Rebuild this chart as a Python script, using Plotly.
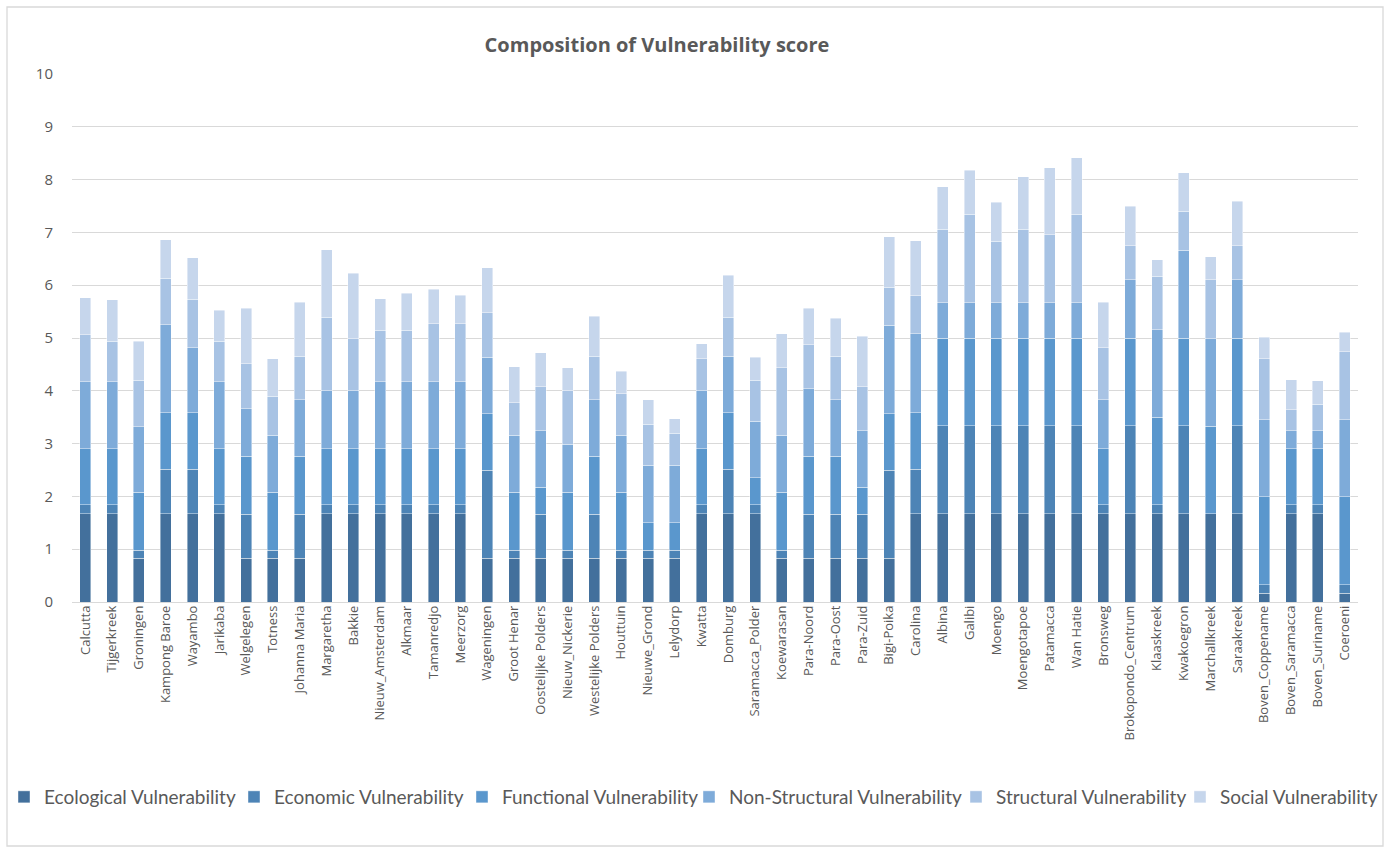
import plotly.graph_objects as go

# Districts along the x axis
districts = [
    "Calcutta", "Tijgerkreek", "Groningen", "Kampong Baroe", "Wayambo", "Jarikaba",
    "Welgelegen", "Totness", "Johanna Maria", "Margaretha", "Bakkie", "Nieuw_Amsterdam",
    "Alkmaar", "Tamanredjo", "Meerzorg", "Wageningen", "Groot Henar", "Oostelijke Polders",
    "Nieuw_Nickerie", "Westelijke Polders", "Houttuin", "Nieuwe_Grond", "Lelydorp", "Kwatta",
    "Domburg", "Saramacca_Polder", "Koewarasan", "Para-Noord", "Para-Oost", "Para-Zuid",
    "Bigi-Poika", "Carolina", "Albina", "Galibi", "Moengo", "Moengotapoe",
    "Patamacca", "Wan Hatie", "Bronsweg", "Brokopondo_Centrum", "Klaaskreek", "Kwakoegron",
    "Marchallkreek", "Saraakreek", "Boven_Coppename", "Boven_Saramacca", "Boven_Suriname", "Coeroeni",
]

# Vulnerability components per district (stacked bottom to top)
ecological = [
    1.67, 1.67, 0.83, 1.67, 1.67, 1.67, 0.83, 0.83, 0.83, 1.67, 1.67, 1.67,
    1.67, 1.67, 1.67, 0.83, 0.83, 0.83, 0.83, 0.83, 0.83, 0.83, 0.83, 1.67,
    1.67, 1.67, 0.83, 0.83, 0.83, 0.83, 0.83, 1.67, 1.67, 1.67, 1.67, 1.67,
    1.67, 1.67, 1.67, 1.67, 1.67, 1.67, 1.67, 1.67, 0.17, 1.67, 1.67, 0.17,
]
economic = [
    0.17, 0.17, 0.15, 0.84, 0.84, 0.17, 0.83, 0.15, 0.83, 0.17, 0.17, 0.17,
    0.17, 0.17, 0.17, 1.67, 0.15, 0.83, 0.15, 0.83, 0.15, 0.15, 0.15, 0.17,
    0.84, 0.17, 0.15, 0.83, 0.83, 0.83, 1.67, 0.84, 1.67, 1.67, 1.67, 1.67,
    1.67, 1.67, 0.17, 1.67, 0.17, 1.67, 0.00, 1.67, 0.16, 0.17, 0.17, 0.16,
]
functional = [
    1.06, 1.06, 1.10, 1.07, 1.07, 1.06, 1.10, 1.10, 1.10, 1.06, 1.06, 1.06,
    1.06, 1.06, 1.06, 1.07, 1.10, 0.51, 1.10, 1.10, 1.10, 0.52, 0.52, 1.06,
    1.07, 0.51, 1.10, 1.10, 1.10, 0.51, 1.07, 1.07, 1.66, 1.66, 1.66, 1.66,
    1.66, 1.66, 1.06, 1.66, 1.66, 1.66, 1.66, 1.66, 1.66, 1.06, 1.06, 1.66,
]
non_structural = [
    1.27, 1.27, 1.24, 1.67, 1.24, 1.27, 0.90, 1.08, 1.07, 1.10, 1.10, 1.27,
    1.27, 1.27, 1.27, 1.07, 1.08, 1.07, 0.91, 1.07, 1.08, 1.09, 1.09, 1.10,
    1.07, 1.07, 1.08, 1.28, 1.07, 1.07, 1.67, 1.50, 0.67, 0.67, 0.67, 0.67,
    0.67, 0.67, 0.93, 1.10, 1.66, 1.66, 1.66, 1.10, 1.46, 0.34, 0.34, 1.46,
]
structural = [
    0.89, 0.77, 0.88, 0.88, 0.91, 0.77, 0.85, 0.74, 0.82, 1.39, 0.99, 0.98,
    0.98, 1.10, 1.10, 0.84, 0.61, 0.84, 1.01, 0.82, 0.78, 0.78, 0.61, 0.61,
    0.74, 0.78, 1.28, 0.83, 0.82, 0.84, 0.72, 0.72, 1.39, 1.67, 1.16, 1.39,
    1.29, 1.67, 0.99, 0.65, 1.01, 0.74, 1.11, 0.65, 1.16, 0.40, 0.51, 1.29,
]
social = [
    0.70, 0.78, 0.74, 0.73, 0.79, 0.59, 1.05, 0.71, 1.03, 1.28, 1.24, 0.59,
    0.70, 0.65, 0.54, 0.85, 0.69, 0.64, 0.44, 0.76, 0.43, 0.46, 0.27, 0.28,
    0.80, 0.44, 0.64, 0.69, 0.72, 0.95, 0.96, 1.04, 0.80, 0.84, 0.74, 0.99,
    1.26, 1.07, 0.86, 0.75, 0.31, 0.73, 0.44, 0.84, 0.40, 0.57, 0.44, 0.37,
]

series = [
    ("Ecological Vulnerability", ecological, "#43709c"),
    ("Economic Vulnerability", economic, "#4d84b6"),
    ("Functional Vulnerability", functional, "#5a97cd"),
    ("Non-Structural Vulnerability", non_structural, "#7eabd9"),
    ("Structural Vulnerability", structural, "#a8c3e4"),
    ("Social Vulnerability", social, "#c6d6ec"),
]

y_ticks = list(range(0, 11))

TEXT = "#595959"
GRID = "#d9d9d9"

W, H = 1394, 854
L, R, T, B = 72, 36, 74, 252
pw, ph = W - L - R, H - T - B

def px_x(x):
    return (x - L) / pw

def px_y(y):
    return (H - B - y) / ph

# Left edge (px) of each legend entry along the bottom row
legend_left_px = [4, 234, 462, 689, 956, 1180]
legend_ids = ["legend"] + [f"legend{i}" for i in range(2, len(series) + 1)]

fig = go.Figure()
for (name, vals, color), lid in zip(series, legend_ids):
    fig.add_trace(go.Bar(
        x=districts, y=vals, name=name, legend=lid, showlegend=True,
        marker=dict(color=color, line=dict(color="rgba(255,255,255,0.7)", width=0.6)),
    ))

legend_layouts = {
    lid: dict(
        orientation="h", visible=True,
        x=px_x(lx), xanchor="left", y=px_y(797), yanchor="middle",
        font=dict(family="Lato, sans-serif", size=19, color=TEXT),
        itemwidth=30, bgcolor="rgba(0,0,0,0)",
    )
    for lid, lx in zip(legend_ids, legend_left_px)
}

fig.update_layout(
    width=W, height=H,
    showlegend=True,
    barmode="stack", bargap=0.59,
    paper_bgcolor="white", plot_bgcolor="white",
    margin=dict(l=L, r=R, t=T, b=B, autoexpand=False),
    font=dict(family="Open Sans, sans-serif", color=TEXT),
    title=dict(
        text="<b>Composition of Vulnerability score</b>",
        font=dict(family="Open Sans, sans-serif", size=20, color=TEXT),
        xref="container", x=657 / W, xanchor="center",
        yref="container", y=1 - 45 / H, yanchor="middle",
    ),
    xaxis=dict(
        tickangle=-90, tickfont=dict(size=13, color=TEXT),
        showgrid=False, showline=False, ticks="", ticklen=0,
    ),
    yaxis=dict(
        range=[0, 10], tickvals=y_ticks, ticktext=[str(v) for v in y_ticks],
        tickfont=dict(size=15, color=TEXT),
        showgrid=True, gridcolor=GRID, gridwidth=1.3,
        zeroline=True, zerolinecolor=GRID, zerolinewidth=1.3,
        showline=False, ticks="", ticklabelstandoff=18,
    ),
    shapes=[dict(
        type="rect", xref="paper", yref="paper",
        x0=px_x(7), x1=px_x(1383), y0=px_y(846), y1=px_y(7),
        line=dict(color=GRID, width=1.3), fillcolor="rgba(0,0,0,0)", layer="below",
    )],
    **legend_layouts,
)

fig.write_html("out.html")
